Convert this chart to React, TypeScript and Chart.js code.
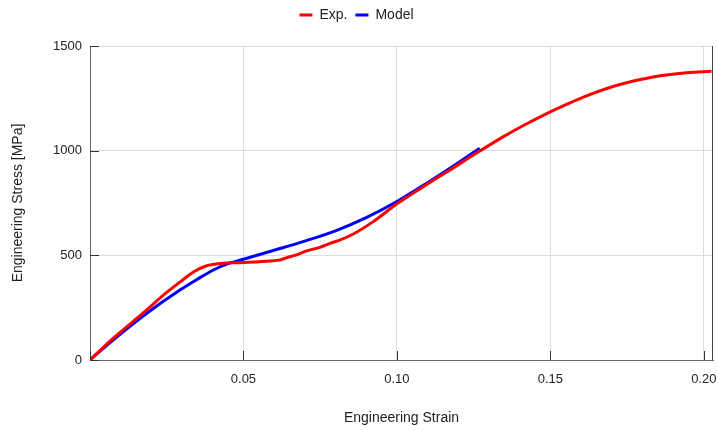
import React, { useEffect, useRef } from "react";
import { Chart, registerables } from "chart.js";

Chart.register(...registerables);

// Experimental curve (strain, stress MPa)
const expStrain = [0, 0.0076, 0.0185, 0.0239, 0.0293, 0.0337, 0.038, 0.0434, 0.0489, 0.0576, 0.0615, 0.064, 0.0673, 0.0706, 0.0749, 0.0782, 0.0814, 0.0858, 0.0923, 0.0999, 0.1086, 0.1173, 0.127, 0.1346, 0.142, 0.1498, 0.156, 0.1618, 0.1726, 0.1835, 0.1944, 0.2025];
const expStress = [0, 104, 239, 310, 372, 420, 450, 462, 465, 472, 477, 488, 502, 521, 538, 557, 573, 602, 661, 745, 828, 908, 998, 1066, 1126, 1184, 1226, 1262, 1316, 1352, 1372, 1379];

// Model curve
const modelStrain = [0, 0.0076, 0.0185, 0.0293, 0.035, 0.0402, 0.045, 0.05, 0.06, 0.07, 0.08, 0.09, 0.1, 0.11, 0.12, 0.127];
const modelStress = [0, 96, 223, 334, 386, 430, 460, 481, 524, 568, 617, 680, 757, 847, 942, 1012];

const xTicks = [0, 0.05, 0.1, 0.15, 0.2];
const yTicks = [0, 500, 1000, 1500];

const FONT = "'Liberation Sans', Arial, sans-serif";

export default function App() {
  const ref = useRef<HTMLCanvasElement | null>(null);

  useEffect(() => {
    if (!ref.current) return;
    const innerTicks = {
      id: "innerTicks",
      afterDraw(chart: any) {
        const { ctx, chartArea, scales } = chart;
        const x = scales.x;
        const y = scales.y;
        ctx.save();
        ctx.strokeStyle = "#333";
        ctx.lineWidth = 1;
        ctx.beginPath();
        xTicks.forEach((v) => {
          const px = Math.round(x.getPixelForValue(v)) + 0.5;
          ctx.moveTo(px, chartArea.bottom);
          ctx.lineTo(px, chartArea.bottom - 9);
        });
        yTicks.forEach((v) => {
          const py = Math.round(y.getPixelForValue(v)) + 0.5;
          ctx.moveTo(chartArea.left, py);
          ctx.lineTo(chartArea.left + 9, py);
        });
        ctx.stroke();
        ctx.beginPath();
        ctx.strokeStyle = "#444";
        const rx = Math.round(chartArea.right) - 0.5;
        ctx.moveTo(rx, chartArea.top);
        ctx.lineTo(rx, chartArea.bottom);
        ctx.stroke();
        ctx.restore();
      },
    };
    const legendMargin = {
      id: "legendMargin",
      beforeInit(chart: any) {
        const legend = chart.legend;
        if (!legend) return;
        const fit = legend.fit;
        legend.fit = function () {
          fit.call(this);
          this.height += 14;
        };
      },
    };

    const chart = new Chart(ref.current, {
      type: "scatter",
      data: {
        datasets: [
          {
            label: "Exp.",
            data: expStrain.map((s, i) => ({ x: s, y: expStress[i] })),
            showLine: true,
            borderColor: "#ff0000",
            backgroundColor: "#ff0000",
            borderWidth: 3,
            pointRadius: 0,
            cubicInterpolationMode: "monotone",
          },
          {
            label: "Model",
            data: modelStrain.map((s, i) => ({ x: s, y: modelStress[i] })),
            showLine: true,
            borderColor: "#0000ff",
            backgroundColor: "#0000ff",
            borderWidth: 3,
            pointRadius: 0,
            cubicInterpolationMode: "monotone",
          },
        ],
      },
      options: {
        animation: false,
        responsive: false,
        maintainAspectRatio: false,
        layout: { padding: { left: 0, right: 5, top: 0, bottom: 0 } },
        plugins: {
          legend: {
            position: "top",
            labels: {
              boxWidth: 13,
              boxHeight: 3,
              padding: 8,
              color: "#222",
              font: { family: FONT, size: 14 },
              generateLabels: (chart: any) => {
                const items = Chart.defaults.plugins.legend.labels.generateLabels(chart);
                return items.map((it: any) => ({ ...it, lineWidth: 0 }));
              },
            },
          },
          tooltip: { enabled: false },
        },
        scales: {
          x: {
            type: "linear",
            min: 0,
            max: 0.203,
            afterBuildTicks: (scale: any) => {
              scale.ticks = xTicks.map((v) => ({ value: v }));
            },
            afterFit: (scale: any) => {
              scale.height = 70;
              scale.paddingRight = 0;
              scale.paddingLeft = 0;
            },
            ticks: {
              padding: 12,
              color: "#222",
              font: { family: FONT, size: 13 },
              callback: (v: any) => (Number(v) === 0 ? "" : Number(v).toFixed(2)),
            },
            grid: { color: "#dcdcdc", drawTicks: false },
            border: { color: "#666" },
            title: {
              display: true,
              text: "Engineering Strain",
              color: "#222",
              font: { family: FONT, size: 14 },
              padding: { top: 0, bottom: 3 },
            },
          },
          y: {
            type: "linear",
            min: 0,
            max: 1500,
            afterBuildTicks: (scale: any) => {
              scale.ticks = yTicks.map((v) => ({ value: v }));
            },
            afterFit: (scale: any) => {
              scale.width = 90;
            },
            ticks: {
              padding: 8,
              color: "#222",
              font: { family: FONT, size: 13 },
              callback: (v: any) => String(v),
            },
            grid: { color: "#dcdcdc", drawTicks: false },
            border: { color: "#666" },
            title: {
              display: true,
              text: "Engineering Stress [MPa]",
              color: "#222",
              font: { family: FONT, size: 14 },
              padding: { top: 10, bottom: 0 },
            },
          },
        },
      },
      plugins: [legendMargin, innerTicks],
    } as any);
    return () => chart.destroy();
  }, []);

  return (
    <div style={{ position: "fixed", left: 0, top: 0, width: 718, height: 430 }}>
      <canvas ref={ref} width={718} height={430} style={{ width: 718, height: 430 }} />
    </div>
  );
}
